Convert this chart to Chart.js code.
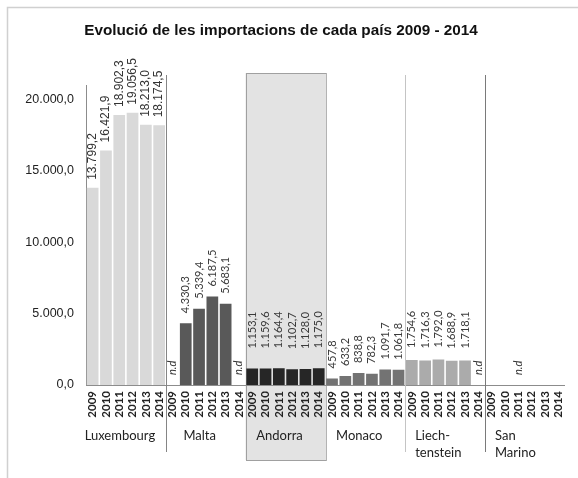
<!DOCTYPE html>
<html>
<head>
<meta charset="utf-8">
<script src="https://cdn.jsdelivr.net/npm/chart.js@4"></script>
<style>
  body { margin: 0; background: #fff; }
</style>
</head>
<body>
<canvas id="chart" width="578" height="478"></canvas>
<script>
// data (null = n.d)
var years = ['2009', '2010', '2011', '2012', '2013', '2014'];
var countries = ['Luxembourg', 'Malta', 'Andorra', 'Monaco', 'Liech-\ntenstein', 'San\nMarino'];
var luxembourg = [13799.2, 16421.9, 18902.3, 19056.5, 18213.0, 18174.5];
var malta = [null, 4330.3, 5339.4, 6187.5, 5683.1, null];
var andorra = [1153.1, 1159.6, 1164.4, 1102.7, 1128.0, 1175.0];
var monaco = [457.8, 633.2, 838.8, 782.3, 1091.7, 1061.8];
var liechtenstein = [1754.6, 1716.3, 1792.0, 1688.9, 1718.1, null];
var sanMarino = [null, null, null, null, null, null];
var yTicks = [0, 5000, 10000, 15000, 20000];
// n.d marks: [country index, year]
var ndMarks = [[1, '2009'], [1, '2014'], [4, '2014'], [5, '2011']];

var series = [luxembourg, malta, andorra, monaco, liechtenstein, sanMarino];
var barColors = ['#d9d9d9', '#595959', '#262626', '#737373', '#ababab', '#ababab'];
var labelGap = [8, 10, 20, 10, 12, 10];

var title = 'Evolució de les importacions de cada país 2009 - 2014';

function fmt(v) {
	var s = v.toFixed(1).split('.');
	return s[0].replace(/\B(?=(\d{3})+(?!\d))/g, '.') + ',' + s[1];
}

var labels = [];
for (var c = 0; c < countries.length; c++) {
	for (var y = 0; y < years.length; y++) labels.push(years[y]);
}

var datasets = [];
for (var i = 0; i < series.length; i++) {
	var data = [];
	for (var j = 0; j < labels.length; j++) {
		var g = Math.floor(j / years.length);
		data.push(g == i ? series[i][j % years.length] : null);
	}
	datasets.push({
		data: data,
		backgroundColor: barColors[i],
		grouped: false,
		barPercentage: 1,
		categoryPercentage: 0.88
	});
}

var decor = {
	id: 'decor',
	beforeDraw: function(chart) {
		var ctx = chart.ctx;
		var xs = chart.scales.x;
		var w = (xs.right - xs.left) / labels.length;
		ctx.save();
		ctx.fillStyle = '#fff';
		ctx.fillRect(0, 0, chart.width, chart.height);
		ctx.strokeStyle = '#d0d0d0';
		ctx.lineWidth = 1.5;
		ctx.strokeRect(7.5, 7.5, 700, 700);
		// Andorra highlight box
		var x0 = xs.left + 12 * w, x1 = xs.left + 18 * w;
		ctx.fillStyle = '#e3e3e3';
		ctx.fillRect(x0, 73, x1 - x0, 387);
		ctx.strokeStyle = '#a0a0a0';
		ctx.lineWidth = 1;
		ctx.strokeRect(Math.round(x0) + 0.5, 73.5, x1 - x0, 387);
		ctx.restore();
	},
	afterDatasetsDraw: function(chart) {
		var ctx = chart.ctx;
		var xs = chart.scales.x, ys = chart.scales.y;
		var w = (xs.right - xs.left) / labels.length;
		ctx.save();

		// group separators
		var sepColors = { 1: '#858585', 4: '#c4c4c4', 5: '#7a7a7a' };
		for (var k in sepColors) {
			var sx = Math.round(xs.left + k * 6 * w) + 0.5;
			ctx.strokeStyle = sepColors[k];
			ctx.lineWidth = 1;
			ctx.beginPath();
			ctx.moveTo(sx, 75);
			ctx.lineTo(sx, 452);
			ctx.stroke();
		}

		// value labels
		ctx.textBaseline = 'middle';
		ctx.textAlign = 'left';
		for (var i = 0; i < series.length; i++) {
			ctx.font = i == 0 ? '12px "Liberation Sans", Arial, sans-serif' : '11px Lato, sans-serif';
			ctx.fillStyle = i == 0 ? '#333' : '#3a3a3a';
			for (var j = 0; j < years.length; j++) {
				var v = series[i][j];
				if (v == null) continue;
				var px = xs.getPixelForValue(i * years.length + j);
				var py = ys.getPixelForValue(v) - labelGap[i];
				ctx.save();
				ctx.translate(px, py);
				ctx.rotate(-Math.PI / 2);
				ctx.fillText(fmt(v), 0, 0);
				ctx.restore();
			}
		}

		// n.d marks
		ctx.font = 'italic 11px Lato, sans-serif';
		ctx.fillStyle = '#333';
		for (var m = 0; m < ndMarks.length; m++) {
			var idx = ndMarks[m][0] * years.length + years.indexOf(ndMarks[m][1]);
			ctx.save();
			ctx.translate(xs.getPixelForValue(idx), ys.bottom - 10);
			ctx.rotate(-Math.PI / 2);
			ctx.fillText('n.d', 0, 0);
			ctx.restore();
		}

		// country names
		ctx.font = '13px Lato, sans-serif';
		ctx.fillStyle = '#222';
		for (var c = 0; c < countries.length; c++) {
			var lines = countries[c].split('\n');
			var gl = xs.left + c * 6 * w;
			for (var l = 0; l < lines.length; l++) {
				if (lines.length > 1) {
					ctx.textAlign = 'left';
					ctx.fillText(lines[l], gl + 10, 436 + l * 17);
				} else {
					ctx.textAlign = 'center';
					ctx.fillText(lines[l], gl + 3 * w - 6, 436);
				}
			}
		}

		// title
		ctx.font = 'bold 15.3px "Liberation Sans", Arial, sans-serif';
		ctx.fillStyle = '#111';
		ctx.textAlign = 'center';
		ctx.fillText(title, 281, 31);
		ctx.restore();
	}
};

new Chart(document.getElementById('chart'), {
	type: 'bar',
	data: {
		labels: labels,
		datasets: datasets
	},
	options: {
		responsive: false,
		animation: false,
		layout: {
			padding: { left: 0, right: 6, top: 85, bottom: 0 }
		},
		plugins: {
			legend: { display: false },
			tooltip: { enabled: false }
		},
		scales: {
			x: {
				grid: { display: false, drawTicks: false },
				border: { display: true, color: '#8c8c8c' },
				ticks: {
					autoSkip: false,
					minRotation: 90,
					maxRotation: 90,
					padding: 6,
					color: '#222',
					font: { family: 'Lato', size: 11.5, weight: 'bold' }
				},
				afterFit: function(scale) { scale.height = 93; }
			},
			y: {
				min: 0,
				max: 21000,
				grid: { display: false, drawTicks: false },
				border: { display: true, color: '#8c8c8c' },
				afterBuildTicks: function(scale) {
					scale.ticks = yTicks.map(function(v) { return { value: v }; });
				},
				ticks: {
					padding: 12,
					color: '#222',
					font: { family: 'Liberation Sans, Arial, sans-serif', size: 12.5 },
					callback: function(v) { return fmt(v); }
				},
				afterFit: function(scale) { scale.width = 86; }
			}
		}
	},
	plugins: [decor]
});
</script>
</body>
</html>
